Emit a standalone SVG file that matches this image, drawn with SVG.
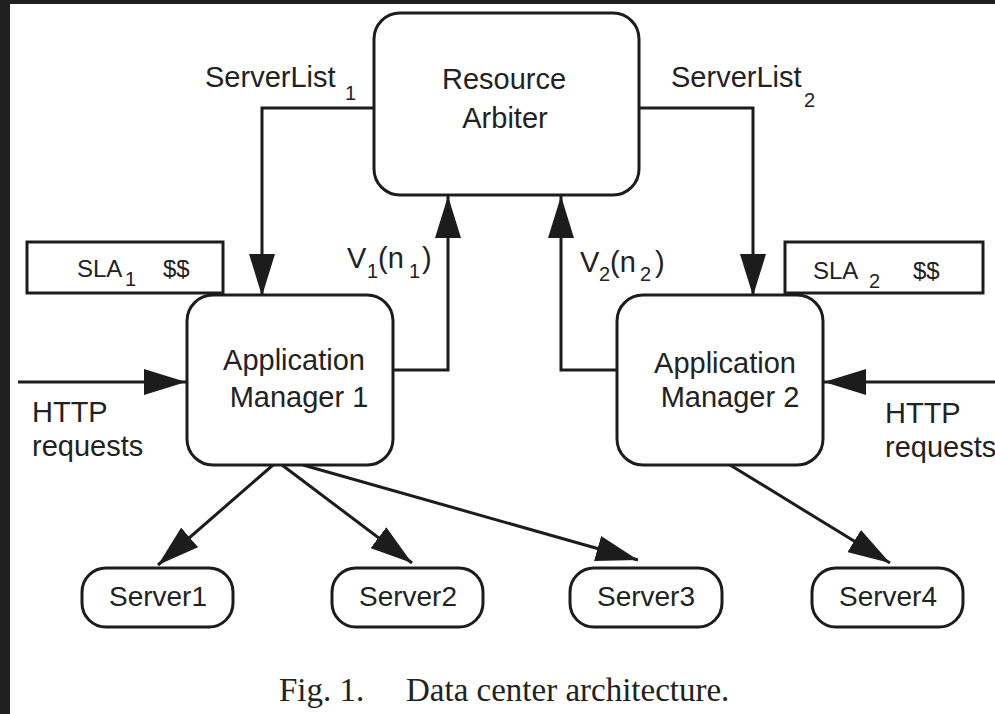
<svg xmlns="http://www.w3.org/2000/svg" width="995" height="714" viewBox="0 0 995 714">
<style>
.box{fill:#fff;stroke:#1c1c1c;stroke-width:3}
.t{font-family:"Liberation Sans",Arial,sans-serif;font-size:29px;fill:#222}
.s{font-family:"Liberation Sans",Arial,sans-serif;font-size:20px;fill:#222}
.sla{font-family:"Liberation Sans",Arial,sans-serif;font-size:24px;fill:#222}
.sv{font-family:"Liberation Sans",Arial,sans-serif;font-size:28px;fill:#222}
.cap{font-family:"Liberation Serif","Times New Roman",serif;font-size:33px;fill:#222}
.c{fill:none;stroke:#1c1c1c;stroke-width:3;marker-end:url(#ah)}
.m{text-anchor:middle}
</style>
<defs>
<marker id="ah" markerWidth="44" markerHeight="26" refX="42" refY="13" orient="auto" markerUnits="userSpaceOnUse">
<path d="M0,0 L42,13 L0,26 z" fill="#1c1c1c"/>
</marker>
</defs>
<rect x="0" y="0" width="995" height="714" fill="#202020"/>
<rect x="10" y="4" width="985" height="710" fill="#fff"/>

<g id="connectors">
<path class="c" d="M374,108 H262 V296"/>
<path class="c" d="M639,108 H753 V296"/>
<path class="c" d="M393,370 H448 V196"/>
<path class="c" d="M617,370 H561 V196"/>
<path class="c" d="M18,382 H186"/>
<path class="c" d="M995,382 H824"/>
<path class="c" d="M273,465 L158,565"/>
<path class="c" d="M282,465 L412,563"/>
<path class="c" d="M303,465 L638,560"/>
<path class="c" d="M730,465 L890,563"/>
</g>

<g id="labels">
<text class="t" x="205" y="87">ServerList</text><text class="s" x="345" y="100">1</text>
<text class="t" x="671" y="87">ServerList</text><text class="s" x="804" y="107">2</text>
<text class="t" x="347" y="268">V</text><text class="s" x="367" y="278">1</text><text class="t" x="378" y="268">(n</text><text class="s" x="409" y="278">1</text><text class="t" x="422" y="268">)</text>
<text class="t" x="580" y="272">V</text><text class="s" x="599" y="281">2</text><text class="t" x="610" y="272">(n</text><text class="s" x="640" y="281">2</text><text class="t" x="655" y="272">)</text>
<text class="t" x="32" y="422">HTTP</text><text class="t" x="32" y="456">requests</text>
<text class="t" x="885" y="423">HTTP</text><text class="t" x="885" y="457">requests</text>
</g>

<g id="resource-arbiter">
<rect class="box" x="374" y="13" width="265" height="182" rx="26"/>
<text class="t m" x="504" y="89">Resource</text>
<text class="t m" x="505" y="128">Arbiter</text>
</g>

<g id="sla1">
<rect class="box" x="27" y="242" width="196" height="51"/>
<text class="sla" x="77" y="277">SLA</text><text class="s" x="125" y="286">1</text><text class="sla" x="163" y="277">$$</text>
</g>

<g id="sla2">
<rect class="box" x="785" y="242" width="198" height="51"/>
<text class="sla" x="813" y="279">SLA</text><text class="s" x="869" y="288">2</text><text class="sla" x="913" y="279">$$</text>
</g>

<g id="app-manager-1">
<rect class="box" x="187" y="295" width="206" height="170" rx="26"/>
<text class="t m" x="294" y="370">Application</text>
<text class="t m" x="299" y="407">Manager 1</text>
</g>

<g id="app-manager-2">
<rect class="box" x="617" y="295" width="206" height="170" rx="26"/>
<text class="t m" x="725" y="373">Application</text>
<text class="t m" x="730" y="407">Manager 2</text>
</g>

<g id="server1">
<rect class="box" x="82" y="568" width="151" height="59" rx="24"/>
<text class="sv m" x="158" y="606">Server1</text>
</g>
<g id="server2">
<rect class="box" x="332" y="568" width="151" height="59" rx="24"/>
<text class="sv m" x="408" y="606">Server2</text>
</g>
<g id="server3">
<rect class="box" x="570" y="568" width="152" height="59" rx="24"/>
<text class="sv m" x="646" y="606">Server3</text>
</g>
<g id="server4">
<rect class="box" x="812" y="568" width="151" height="59" rx="24"/>
<text class="sv m" x="888" y="606">Server4</text>
</g>

<g id="caption">
<text class="cap" x="279" y="701">Fig. 1.</text>
<text class="cap" x="406" y="701">Data center architecture.</text>
</g>
</svg>
